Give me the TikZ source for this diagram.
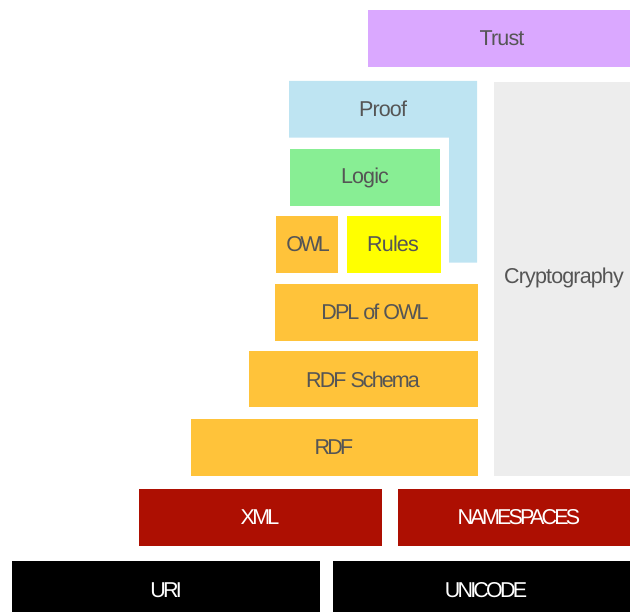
\documentclass[tikz,border=0pt]{standalone}
\usepackage{fontspec}
\setmainfont{Liberation Sans}[LetterSpace=-4]
% tighter tracking for capital-letter labels
\newfontfamily\mixedtrack{Liberation Sans}[LetterSpace=-9]
\newfontfamily\capstrack{Liberation Sans}[LetterSpace=-13]
\definecolor{trustc}{HTML}{DAA8FF}
\definecolor{proofc}{HTML}{BEE4F2}
\definecolor{cryptc}{HTML}{EDEDED}
\definecolor{logicc}{HTML}{88EE94}
\definecolor{owlc}{HTML}{FFC33A}
\definecolor{rulesc}{HTML}{FFFF00}
\definecolor{xmlc}{HTML}{AD0F02}
\definecolor{txtc}{HTML}{555555}
\begin{document}
\begin{tikzpicture}[x=1pt,y=-1pt,
  layer/.style={inner sep=0pt,outer sep=0pt,font=\fontsize{21.5}{24}\selectfont},
  darktext/.style={layer,text=txtc},
  lighttext/.style={layer,text=white},
  capsword/.style={font=\capstrack\fontsize{21.5}{24}\selectfont},
  mixedword/.style={font=\mixedtrack\fontsize{21.5}{24}\selectfont}]
\useasboundingbox (0,0) rectangle (630,612);
% coloured blocks of the stack
\fill[trustc] (368,10) rectangle (630,66.7);
\fill[proofc] (289,81) -- (477,81) -- (477,262.7) -- (449,262.7) -- (449,137.7) -- (289,137.7) -- cycle;
\fill[cryptc] (494,82) rectangle (630,475.7);
\fill[logicc] (290,149) rectangle (440,205.7);
\fill[owlc] (276,216) rectangle (338,272.7);
\fill[rulesc] (347,216) rectangle (441,272.7);
\fill[owlc] (275,284) rectangle (478,340.7);
\fill[owlc] (249,351) rectangle (478,407.3);
\fill[owlc] (191,419) rectangle (478,475.7);
\fill[xmlc] (139,489) rectangle (381.7,545.7);
\fill[xmlc] (398,489) rectangle (630,545.7);
\fill[black] (12,561) rectangle (320,612);
\fill[black] (333,561) rectangle (630,612);
% labels
\node[darktext] (trust) at (502,38) {Trust};
\node[darktext] (proof) at (383,109) {Proof};
\node[darktext] (crypto) at (564,278) {Cryptography};
\node[darktext] (logic) at (365,178) {Logic};
\node[darktext,capsword] (owl) at (308,244) {OWL};
\node[darktext] (rules) at (393,244) {Rules};
\node[darktext,mixedword] (dpl) at (375,312) {DPL of OWL};
\node[darktext,mixedword] (rdfs) at (363,380) {RDF Schema};
\node[darktext,capsword] (rdf) at (334,447) {RDF};
\node[lighttext,capsword] (xml) at (260,517) {XML};
\node[lighttext,capsword] (ns) at (519,517) {NAMESPACES};
\node[lighttext,capsword] (uri) at (166,590) {URI};
\node[lighttext,capsword] (unicode) at (486,590) {UNICODE};
\end{tikzpicture}
\end{document}
